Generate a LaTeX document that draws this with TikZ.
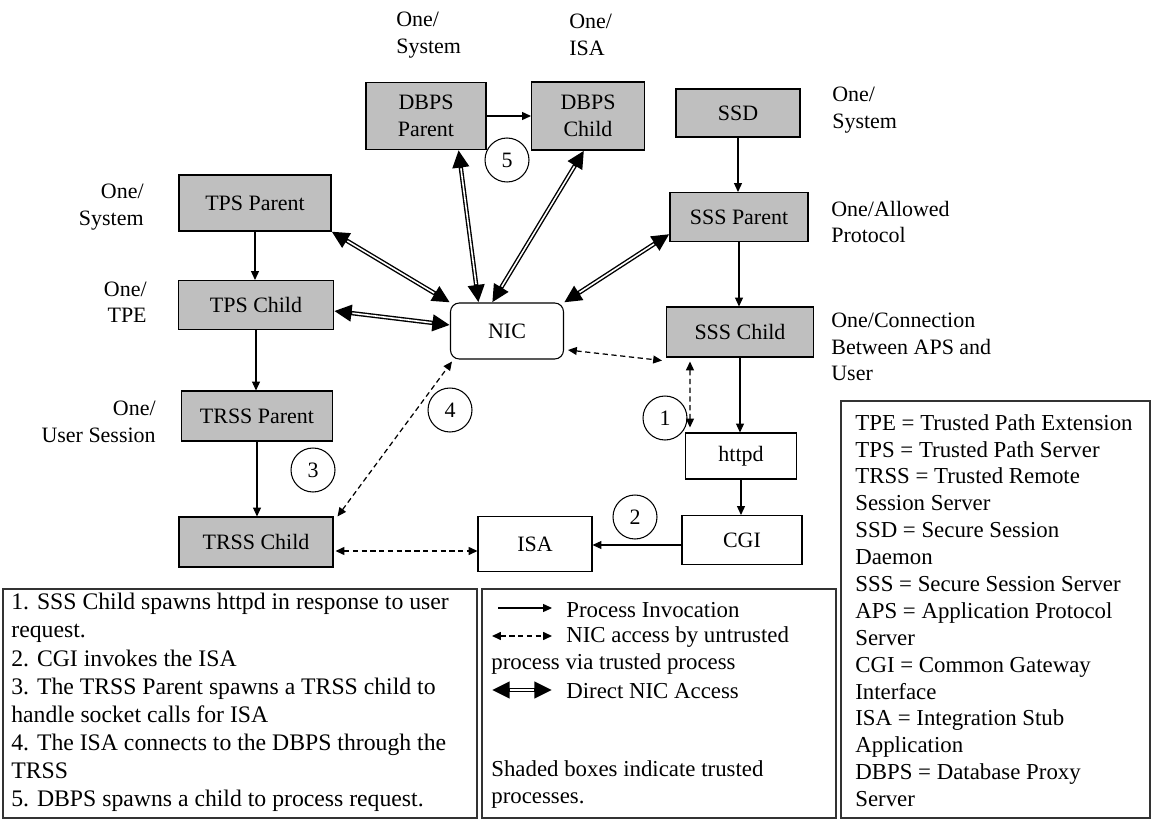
\documentclass[tikz,border=0pt]{standalone}
\usepackage{fontspec}
\setmainfont{Liberation Serif}
\usetikzlibrary{arrows.meta,calc}

\tikzset{
  procbox/.style={draw, line width=0.6pt, fill=black!25, inner sep=0pt, align=center},
  userbox/.style={draw, line width=0.6pt, fill=white, inner sep=0pt, align=center},
  numcircle/.style={draw, line width=0.6pt, circle, minimum size=0.88cm, inner sep=0pt},
  note/.style={inner sep=0pt, align=left},
  invoke/.style={line width=0.6pt, -{Triangle[length=5pt,width=4.5pt]}},
  viatrusted/.style={line width=0.7pt, dash pattern=on 3pt off 2pt,
    {Triangle[length=5pt,width=4.5pt]}-{Triangle[length=5pt,width=4.5pt]}},
  direct/.style={line width=2.5pt,
    {Triangle[length=10pt,width=9pt]}-{Triangle[length=10pt,width=9pt]},
    postaction={draw=white, line width=0.9pt, -, shorten <=10.5pt, shorten >=10.5pt}},
  frame/.style={line width=0.8pt, draw=black!80}
}

\begin{document}
\begin{tikzpicture}[x=0.02cm, y=-0.02cm, font=\fontsize{12.5}{15}\selectfont]
    \useasboundingbox (0,0) rectangle (1154,821);

    % Processes
    \node[procbox, minimum width=2.4cm, minimum height=1.34cm] (dbpsp) at (426,116) {DBPS\\Parent};
    \node[procbox, minimum width=2.26cm, minimum height=1.36cm] (dbpsc) at (588,116) {DBPS\\Child};
    \node[procbox, minimum width=2.48cm, minimum height=0.96cm] (ssd) at (738,113) {SSD};
    \node[procbox, minimum width=2.76cm, minimum height=0.98cm] (sssp) at (739,217) {SSS Parent};
    \node[procbox, minimum width=2.94cm, minimum height=1.0cm] (sssc) at (740,332) {SSS Child};
    \node[userbox, minimum width=2.22cm, minimum height=0.92cm] (httpd) at (741,456) {httpd};
    \node[userbox, minimum width=2.4cm, minimum height=0.98cm] (cgi) at (742,540) {CGI};
    \node[userbox, minimum width=2.28cm, minimum height=1.1cm] (isa) at (535,544) {ISA};
    \node[procbox, minimum width=3.04cm, minimum height=1.12cm] (tpsp) at (255,203) {TPS Parent};
    \node[procbox, minimum width=3.1cm, minimum height=0.98cm] (tpsc) at (256,305) {TPS Child};
    \node[procbox, minimum width=3.02cm, minimum height=1.0cm] (trssp) at (257,416) {TRSS Parent};
    \node[procbox, minimum width=3.08cm, minimum height=1.0cm] (trssc) at (256,542) {TRSS Child};
    \node[userbox, rounded corners=5pt, minimum width=2.26cm, minimum height=1.12cm] (nic) at (507,331) {NIC};

    % Instance counts
    \node[note, anchor=west] (ldbpsp) at (396,35) {One/\\System};
    \node[note, anchor=west] (ldbpsc) at (569,35) {One/\\ISA};
    \node[note, anchor=west] (lssd) at (832,110) {One/\\System};
    \node[note, anchor=west] (lsssp) at (831,222) {One/Allowed\\Protocol};
    \node[note, anchor=west] (lsssc) at (831,347) {One/Connection\\Between APS and\\User};
    \node[note, anchor=east, align=right] (ltpsp) at (144,207) {One/\\System};
    \node[note, anchor=east, align=right] (ltpsc) at (147,302) {One/\\TPE};
    \node[note, anchor=east, align=right] (ltrssp) at (156,422) {One/\\User Session};

    % Steps
    \node[numcircle] (c1) at (665,418) {1};
    \node[numcircle] (c2) at (635,517) {2};
    \node[numcircle] (c3) at (313,470) {3};
    \node[numcircle] (c4) at (450,410) {4};
    \node[numcircle] (c5) at (507,160) {5};

    % Process invocation
    \draw[invoke] (dbpsp.east) -- (dbpsc.west);
    \draw[invoke] (ssd.south) -- (ssd.south |- sssp.north);
    \draw[invoke] (sssp.south) -- (sssp.south |- sssc.north);
    \draw[invoke] (sssc.south) -- (sssc.south |- httpd.north);
    \draw[invoke] (httpd.south) -- (httpd.south |- cgi.north);
    \draw[invoke] ($(cgi.west)+(0,5)$) -- ($(isa.east)+(0,1)$);
    \draw[invoke] (tpsp.south) -- (tpsp.south |- tpsc.north);
    \draw[invoke] (tpsc.south) -- (tpsc.south |- trssp.north);
    \draw[invoke] (trssp.south) -- (trssp.south |- trssc.north);

    % Direct NIC access
    \draw[direct] (nic.north west) -- (tpsp.south east);
    \draw[direct] ($(nic.west)+(0,-6)$) -- ($(tpsc.east)+(0,6)$);
    \draw[direct] ($(nic.north west)!0.25!(nic.north east)$) -- ($(dbpsp.south east)+(-28,0)$);
    \draw[direct] ($(nic.north west)!0.37!(nic.north east)$) -- ($(dbpsc.south)+(-4,0)$);
    \draw[direct] (nic.north east) -- ($(sssp.south west)+(0,-8)$);

    % NIC access via trusted process
    \draw[viatrusted] ($(nic.east)+(4,19)$) -- ($(sssc.south west)+(-4,3)$);
    \draw[viatrusted] ($(sssc.south west)+(24,4)$) -- ($(httpd.north west)+(5,-5)$);
    \draw[viatrusted] ($(trssc.north east)+(4,0)$) -- ($(nic.south west)+(2,2)$);
    \draw[viatrusted] ($(trssc.east)+(2,9)$) -- ($(isa.west)+(0,7)$);

    % Notes
    \draw[frame] (3,589) rectangle (477,818);
    \node[note, anchor=north west, font=\fontsize{13.5}{16}\selectfont] (notes) at (11,593)
      {1. SSS Child spawns httpd in response to user\\request.\\2. CGI invokes the ISA\\%
       3. The TRSS Parent spawns a TRSS child to\\handle socket calls for ISA\\%
       4. The ISA connects to the DBPS through the\\TRSS\\5. DBPS spawns a child to process request.};

    % Legend
    \draw[frame] (482,589) rectangle (836,818);
    \coordinate (k1a) at (498,608);
    \coordinate (k1b) at (552,608);
    \coordinate (k2a) at (492,636);
    \coordinate (k2b) at (552,636);
    \coordinate (k3a) at (492,690);
    \coordinate (k3b) at (552,690);
    \draw[invoke] (k1a) -- (k1b);
    \draw[viatrusted] (k2a) -- (k2b);
    \draw[direct] (k3a) -- (k3b);
    \begin{scope}[font=\fontsize{13}{15.3}\selectfont]
    \node[note, anchor=west] (k1) at (566,610) {Process Invocation};
    \node[note, anchor=west] (k2) at (566,637) {NIC access by untrusted};
    \node[note, anchor=west] (k2x) at (491,664) {process via trusted process};
    \node[note, anchor=west] (k3) at (566,691) {Direct NIC Access};
    \node[note, anchor=north west] (k4) at (491,760) {Shaded boxes indicate trusted\\processes.};
    \end{scope}

    % Abbreviations
    \draw[frame] (841,401) rectangle (1150,818);
    \node[note, anchor=north west, font=\fontsize{13}{15.3}\selectfont] (abbr) at (855,414)
      {TPE = Trusted Path Extension\\TPS = Trusted Path Server\\TRSS = Trusted Remote\\Session Server\\%
       SSD = Secure Session\\Daemon\\SSS = Secure Session Server\\APS = Application Protocol\\Server\\%
       CGI = Common Gateway\\Interface\\ISA =  Integration Stub\\Application\\DBPS = Database Proxy\\Server};
\end{tikzpicture}
\end{document}
